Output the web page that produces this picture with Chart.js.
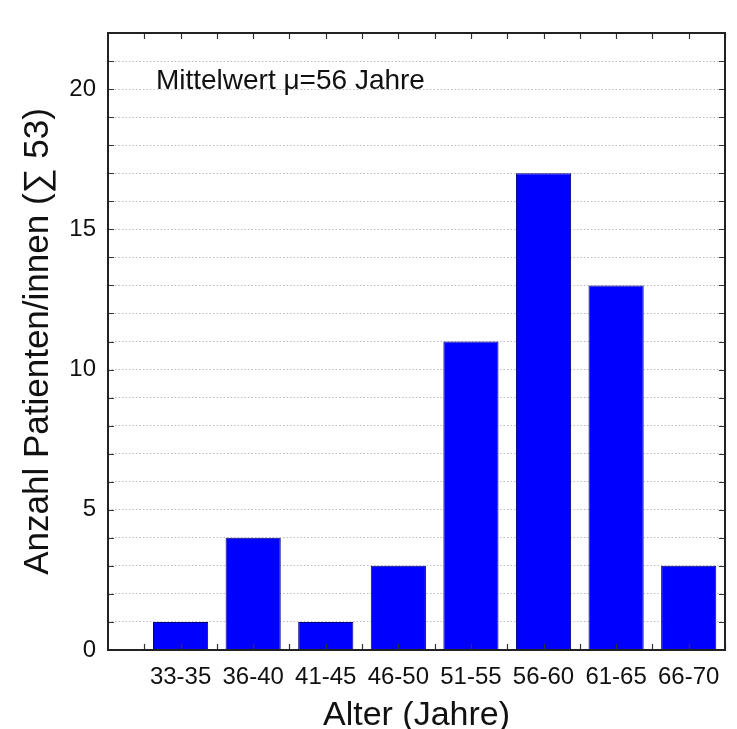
<!DOCTYPE html>
<html>
<head>
<meta charset="utf-8">
<script src="https://cdn.jsdelivr.net/npm/chart.js@4/dist/chart.umd.min.js"></script>
<style>
  html, body { margin: 0; padding: 0; background: #fff; }
  canvas { display: block; }
</style>
</head>
<body>
<canvas id="alter" width="737" height="729"></canvas>
<script>
// Altersgruppen und Anzahl Patienten/innen (Summe 53)
const groups = ['33-35', '36-40', '41-45', '46-50', '51-55', '56-60', '61-65', '66-70'];
const counts = [1, 4, 1, 3, 11, 17, 13, 3];
const yLabelTicks = [0, 5, 10, 15, 20];
const note = 'Mittelwert μ=56 Jahre';

const FONT = "'Liberation Sans', Arial, sans-serif";

// Rahmen mit nach innen zeigenden Tickmarken (wie im Original)
const frameTicks = {
    id: 'frameTicks',
    afterDatasetsDraw(chart) {
        const { ctx, chartArea: a, scales: { x, y } } = chart;
        ctx.save();
        ctx.strokeStyle = '#333';
        ctx.lineWidth = 1.2;
        ctx.beginPath();
        for (let v = 0; v <= y.max; v++) {
            const py = Math.round(y.getPixelForValue(v)) + 0.5;
            ctx.moveTo(a.left, py); ctx.lineTo(a.left + 6, py);
            ctx.moveTo(a.right, py); ctx.lineTo(a.right - 6, py);
        }
        for (let v = 0.5; v <= x.max; v += 0.5) {
            const px = Math.round(x.getPixelForValue(v)) + 0.5;
            ctx.moveTo(px, a.top); ctx.lineTo(px, a.top + 6);
            ctx.moveTo(px, a.bottom); ctx.lineTo(px, a.bottom - 6);
        }
        ctx.stroke();
        ctx.lineWidth = 2;
        ctx.strokeStyle = '#222';
        ctx.strokeRect(a.left, a.top, a.right - a.left, a.bottom - a.top);
        // Mittelwert-Hinweis
        ctx.fillStyle = '#111';
        ctx.font = '28px ' + FONT;
        ctx.textBaseline = 'alphabetic';
        ctx.textAlign = 'left';
        ctx.fillText(note, x.getPixelForValue(0.66), y.getPixelForValue(20));
        ctx.restore();
    },
};

new Chart(document.getElementById('alter'), {
    type: 'bar',
    data: {
        datasets: [{
            data: counts.map((c, i) => ({ x: i + 1, y: c })),
            backgroundColor: '#0000ff',
            borderColor: '#00007a',
            borderWidth: 1,
            barPercentage: 0.76,
            categoryPercentage: 1,
        }],
    },
    options: {
        responsive: false,
        animation: false,
        layout: { padding: { top: 33, right: 12, left: 0, bottom: 0 } },
        plugins: { legend: { display: false }, tooltip: { enabled: false } },
        scales: {
            x: {
                type: 'linear',
                min: 0,
                max: 8.5,
                offset: false,
                afterFit: (s) => { s.height = 79; },
                afterBuildTicks: (s) => { s.ticks = [0].concat(groups.map((g, i) => i + 1)).map((v) => ({ value: v })); },
                grid: { display: false, drawTicks: false },
                border: { display: false },
                ticks: {
                    autoSkip: false,
                    maxRotation: 0,
                    padding: 13,
                    color: '#111',
                    font: { family: FONT, size: 24 },
                    callback: (v) => (Number.isInteger(v) && v >= 1 ? groups[v - 1] : ''),
                },
                title: {
                    display: true,
                    text: 'Alter (Jahre)',
                    color: '#111',
                    padding: 0,
                    font: { family: FONT, size: 34, lineHeight: 0.8 },
                },
            },
            y: {
                min: 0,
                max: 22,
                afterFit: (s) => { s.width = 108; },
                grid: { color: '#bdbdbd', lineWidth: 1, drawTicks: false },
                border: { display: false, dash: [1.5, 2] },
                ticks: {
                    stepSize: 1,
                    autoSkip: false,
                    padding: 12,
                    color: '#111',
                    font: { family: FONT, size: 24 },
                    callback: (v) => (yLabelTicks.includes(v) ? String(v) : ''),
                },
                title: {
                    display: true,
                    text: 'Anzahl Patienten/innen (∑ 53)',
                    color: '#111',
                    padding: { top: 17 },
                    font: { family: FONT, size: 35, lineHeight: 1.2 },
                },
            },
        },
    },
    plugins: [frameTicks],
});
</script>
</body>
</html>
